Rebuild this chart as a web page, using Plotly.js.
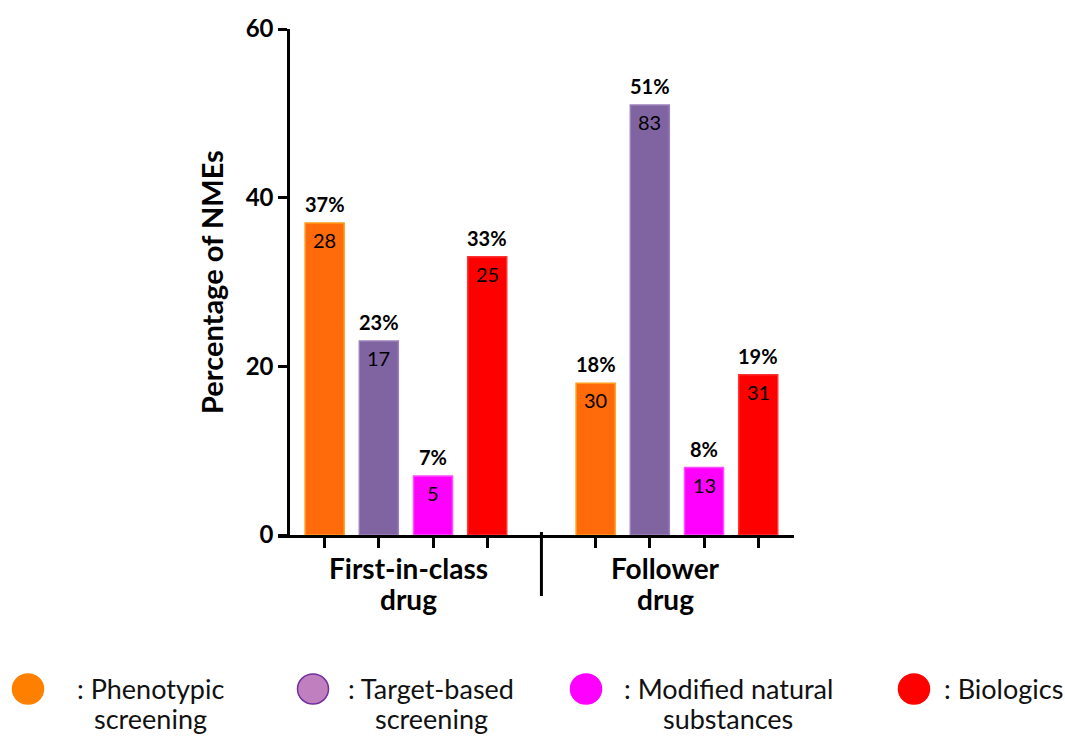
<!DOCTYPE html>
<html><head><meta charset="utf-8">
<script src="https://cdn.plot.ly/plotly-3.0.1.min.js"></script>
<style>html,body{margin:0;padding:0;background:#fff}#chart{width:1065px;height:738px}</style>
</head><body><div id="chart"></div>
<script>
// ---- data ----
const groupLine1 = ['First-in-class', 'Follower'];
const groupLine2 = ['drug', 'drug'];
const categories = ['Phenotypic screening', 'Target-based screening', 'Modified natural substances', 'Biologics'];
const firstInClassPct = [37, 23, 7, 33];
const followerPct = [18, 51, 8, 19];
const firstInClassCount = [28, 17, 5, 25];
const followerCount = [30, 83, 13, 31];
const yTicks = [0, 20, 40, 60];
const legendLine1 = [': Phenotypic', ': Target-based', ': Modified natural', ': Biologics'];
const legendLine2 = ['screening', 'screening', 'substances', ''];

// ---- style ----
const fills = ['#FF6A0A', '#8064A2', '#FF00FF', '#FF0000'];
const outlines = ['#FF9A1A', '#9A80BA', '#FF4DFF', '#FF3333'];
const legendFills = ['#FF8000', '#C080C0', '#FF00FF', '#FF0000'];
const legendOutlines = ['#FF8000', '#7030A0', '#FF00FF', '#FF0000'];
const FONT = 'Lato, "Open Sans", sans-serif';

const W = 1065, H = 738;
const M = {l: 278, r: 271, t: 29, b: 203};
const PW = W - M.l - M.r, PH = H - M.t - M.b;
const px2x = p => (p - M.l) / PW;
const py2y = p => (M.t + PH - p) / PH;

const xRange = [-0.86, 8.66];
const yAxisAt = -0.67;
const groupOffset = 5;

const traces = categories.map((c, i) => {
  const xs = [i, i + groupOffset];
  const ys = [firstInClassPct[i], followerPct[i]];
  return {
    type: 'bar', name: c, x: xs, y: ys, width: 0.72,
    marker: {color: fills[i], line: {color: outlines[i], width: 1.5}},
    showlegend: false, hoverinfo: 'skip'
  };
});

const annotations = [];
categories.forEach((c, i) => {
  const pcts = [firstInClassPct[i], followerPct[i]];
  const cnts = [firstInClassCount[i], followerCount[i]];
  [0, 1].forEach(g => {
    const x = i + g * groupOffset;
    annotations.push({x: x, y: pcts[g], xref: 'x', yref: 'y', text: pcts[g] + '%',
      showarrow: false, yanchor: 'bottom', yshift: 5,
      font: {family: FONT, size: 20, color: '#000', weight: 'bold'}});
    annotations.push({x: x, y: pcts[g], xref: 'x', yref: 'y', text: String(cnts[g]),
      showarrow: false, yanchor: 'top', yshift: -3,
      font: {family: FONT, size: 20, color: '#000'}});
  });
});
const groupShift = [3, -11];
groupLine1.forEach((t, g) => {
  const cx = 1.5 + g * groupOffset;
  annotations.push({x: cx, xref: 'x', y: py2y(568), yref: 'paper', text: t, showarrow: false,
    yanchor: 'middle', xshift: groupShift[g], font: {family: FONT, size: 28, color: '#000', weight: 'bold'}});
  annotations.push({x: cx, xref: 'x', y: py2y(599), yref: 'paper', text: groupLine2[g], showarrow: false,
    yanchor: 'middle', xshift: groupShift[g], font: {family: FONT, size: 28, color: '#000', weight: 'bold'}});
});

// legend (drawn manually)
const legCircleX = [28, 313, 586, 914];
const legTextX = [150, 431, 728, 1003];
const shapes = [];
categories.forEach((c, i) => {
  shapes.push({type: 'circle', xref: 'paper', yref: 'paper',
    x0: px2x(legCircleX[i] - 15.5), x1: px2x(legCircleX[i] + 15.5),
    y0: py2y(674), y1: py2y(704),
    fillcolor: legendFills[i], line: {color: legendOutlines[i], width: 1.5}});
  annotations.push({x: px2x(legTextX[i]), xref: 'paper', y: py2y(688), yref: 'paper', text: legendLine1[i],
    showarrow: false, xanchor: 'center', yanchor: 'middle', font: {family: FONT, size: 27, color: '#111'}});
  if (legendLine2[i]) annotations.push({x: px2x(legTextX[i]), xref: 'paper', y: py2y(718), yref: 'paper', text: legendLine2[i],
    showarrow: false, xanchor: 'center', yanchor: 'middle', font: {family: FONT, size: 27, color: '#111'}});
});
// group divider
shapes.push({type: 'line', xref: 'x', yref: 'paper', x0: 4, x1: 4, y0: py2y(532), y1: py2y(596),
  line: {color: '#000', width: 3}});

const layout = {
  width: W, height: H, margin: M, paper_bgcolor: '#fff', plot_bgcolor: '#fff',
  showlegend: false, bargap: 0,
  font: {family: FONT, color: '#000'},
  xaxis: {range: xRange, domain: [0, 1], showline: true, linewidth: 3, linecolor: '#000',
    ticks: 'outside', ticklen: 10, tickwidth: 3, tickcolor: '#000',
    tickvals: [0, 1, 2, 3, 5, 6, 7, 8], ticktext: ['', '', '', '', '', '', '', ''],
    showgrid: false, zeroline: false, fixedrange: true},
  yaxis: {range: [0, 60], anchor: 'free', position: (yAxisAt - xRange[0]) / (xRange[1] - xRange[0]),
    showline: true, linewidth: 3, linecolor: '#000', ticks: 'outside', ticklen: 9, tickwidth: 3, tickcolor: '#000',
    tickvals: yTicks, tickfont: {family: FONT, size: 24, weight: 'bold', color: '#000'},
    showgrid: false, zeroline: false, fixedrange: true,
    title: {text: 'Percentage of NMEs', standoff: 12, font: {family: FONT, size: 29, weight: 'bold', color: '#000'}}},
  annotations: annotations, shapes: shapes
};

Plotly.newPlot('chart', traces, layout, {displayModeBar: false, staticPlot: true});
</script></body></html>
